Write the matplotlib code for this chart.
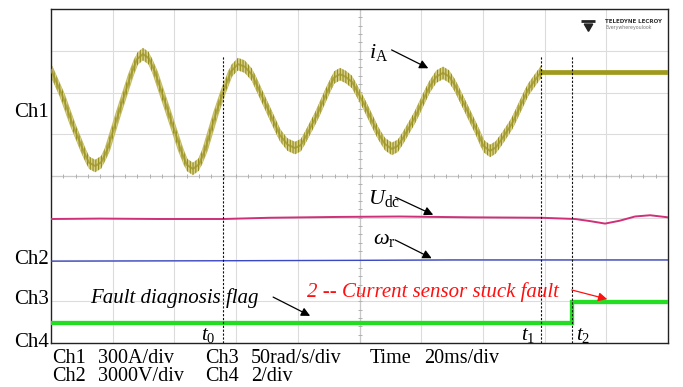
import numpy as np
import matplotlib.pyplot as plt

plt.rcParams['font.family'] = ['Liberation Serif', 'DejaVu Serif']
plt.rcParams['mathtext.fontset'] = 'custom'
plt.rcParams['mathtext.rm'] = 'Liberation Serif'
plt.rcParams['mathtext.it'] = 'Liberation Serif:italic'
plt.rcParams['hatch.linewidth'] = 0.8

# time in ms (20 ms/div, 10 div), levels in screen divisions (8 div)
ch1_t = [0.0, 3.6, 7.1, 10.7, 12.3, 14.3, 16.3, 18.2, 22.0, 25.9, 27.9, 29.8, 31.7, 33.7,
         37.9, 42.1, 44.0, 46.0, 48.0, 49.9, 53.5, 55.8, 58.4, 60.6, 62.8, 65.2, 69.7, 74.2,
         76.7, 79.1, 81.0, 82.7, 86.2, 89.8, 91.8, 93.7, 95.6, 97.6, 101.5, 106.0, 108.3,
         110.5, 112.4, 114.1, 118.0, 122.5, 124.9, 127.1, 129.1, 131.0, 134.5, 138.1, 140.2,
         142.3, 144.1, 145.9, 149.4, 154.6, 158.8]
ch1_v = [6.54, 5.94, 5.22, 4.57, 4.32, 4.24, 4.33, 4.62, 5.53, 6.42, 6.80, 6.92, 6.82, 6.49,
         5.56, 4.62, 4.27, 4.17, 4.28, 4.62, 5.51, 6.01, 6.51, 6.68, 6.62, 6.42, 5.70, 4.98,
         4.75, 4.67, 4.74, 4.96, 5.46, 6.06, 6.36, 6.44, 6.37, 6.25, 5.72, 5.03, 4.76,
         4.65, 4.72, 4.91, 5.41, 6.11, 6.38, 6.47, 6.38, 6.16, 5.63, 5.08, 4.72,
         4.60, 4.68, 4.86, 5.25, 6.06, 6.49]
ch1_stuck_t = [158.8, 200.0]
ch1_stuck_v = [6.50, 6.50]

udc_t = [0, 15.9, 35.3, 55.8, 71.0, 93.7, 113.0, 135.8, 158.8, 169.9, 174.7, 179.6, 184.4,
         189.3, 194.2, 200]
udc_v = [2.97, 2.98, 2.97, 2.97, 3.00, 3.02, 3.03, 3.01, 3.00, 2.97, 2.92, 2.86, 2.93,
         3.03, 3.06, 3.01]

wr_t = [0, 55.8, 100, 130, 200]
wr_v = [1.96, 1.97, 1.98, 1.99, 1.99]

flag_t = [0, 168.8, 168.8, 200]
flag_v = [0.49, 0.49, 0.98, 0.98]

t_marks = [55.8, 158.8, 168.8]
t_names = ['$t_0$', '$t_1$', '$t_2$']

ch_names = ['Ch1', 'Ch2', 'Ch3', 'Ch4']
ch_levels = [5.53, 1.99, 1.05, 0.01]

fig = plt.figure(figsize=(6.83, 3.87), dpi=100)
ax = fig.add_axes([51 / 683, 44 / 387, 617 / 683, 334 / 387])
ax.set_xlim(0, 200)
ax.set_ylim(0, 8)

# scope graticule
for gx in np.arange(20, 200, 20):
    ax.axvline(gx, color='#dcdcdc', lw=0.8, zorder=0)
for gy in np.arange(1, 8, 1):
    ax.axhline(gy, color='#dcdcdc', lw=0.8, zorder=0)
ax.axvline(100, color='#c8c8c8', lw=0.9, zorder=0)
ax.axhline(4, color='#c8c8c8', lw=0.9, zorder=0)
ax.plot(np.arange(4, 200, 4), np.full(49, 4.0), ls='none', marker='|', ms=3,
        color='#b0b0b0', mew=0.7, zorder=0)
ax.plot(np.full(39, 100.0), np.arange(0.2, 8, 0.2), ls='none', marker='_', ms=3,
        color='#b0b0b0', mew=0.7, zorder=0)
ax.set_xticks([])
ax.set_yticks([])
for s in ax.spines.values():
    s.set_color('#222222')
    s.set_linewidth(1.0)

# Ch1 phase current with PWM ripple
ch1_lo = np.array(ch1_v) - 0.15
ch1_hi = np.array(ch1_v) + 0.15
ax.plot(ch1_t, ch1_v, color='#c4bc62', lw=4.2, zorder=2, solid_joinstyle='round')
ax.fill_between(ch1_t, ch1_lo, ch1_hi, facecolor='#d8d08a', edgecolor='#948c1c',
                hatch='||||||', linewidth=0, zorder=2)
ax.plot(ch1_t, ch1_v, color='#a0982a', lw=1.4, alpha=0.8, zorder=3)
ax.plot(ch1_stuck_t, ch1_stuck_v, color='#a09a1c', lw=3.4, zorder=3)

ax.plot(udc_t, udc_v, color='#cf3079', lw=1.4, zorder=3)
ax.plot(wr_t, wr_v, color='#3b48c4', lw=1.0, zorder=3)
ax.plot(flag_t, flag_v, color='#22dd22', lw=3.1, zorder=3, solid_joinstyle='miter')

for tm in t_marks:
    ax.plot([tm, tm], [0, 6.87], color='#111111', lw=0.8, ls=(0, (2, 1.5)), zorder=4)
ax.text(53.2, 0.19, t_names[0], ha='right', va='center', fontsize=15)
ax.text(156.9, 0.19, t_names[1], ha='right', va='center', fontsize=15)
ax.text(170.3, 0.19, t_names[2], ha='left', va='center', fontsize=15)

for name, lev in zip(ch_names, ch_levels):
    ax.text(-0.6, lev, name, ha='right', va='center', fontsize=15, clip_on=False)

arrow = dict(arrowstyle='-|>', color='k', lw=0.9, mutation_scale=13, shrinkA=0, shrinkB=0)
ax.text(103.1, 6.97, r'$i_{\mathrm{A}}$', fontsize=16, ha='left', va='center')
ax.annotate('', xy=(122.3, 6.58), xytext=(110.4, 7.02), arrowprops=arrow)
ax.text(102.8, 3.47, r'$U_{\mathrm{dc}}$', fontsize=16, ha='left', va='center')
ax.annotate('', xy=(123.9, 3.07), xytext=(111.7, 3.49), arrowprops=arrow)
ax.text(104.4, 2.47, r'$\omega_{\mathrm{r}}$', fontsize=16, ha='left', va='center')
ax.annotate('', xy=(123.4, 2.03), xytext=(111.5, 2.47), arrowprops=arrow)
ax.text(12.6, 0.95, 'Fault diagnosis flag', fontsize=15, style='italic', ha='left',
        va='baseline')
ax.annotate('', xy=(84.0, 0.65), xytext=(72.0, 1.10), arrowprops=arrow)
ax.text(82.9, 1.10, '2 -- Current sensor stuck fault', fontsize=15, style='italic',
        color='#ff1010', ha='left', va='baseline')
red_arrow = dict(arrow, color='#ff1010')
ax.annotate('', xy=(180.3, 1.05), xytext=(168.8, 1.27), arrowprops=red_arrow)

# logo
fig.text(605 / 683, 1 - 21.5 / 387, 'TELEDYNE LECROY', fontsize=4.0, fontweight='bold',
         family='DejaVu Sans', color='#333333', va='center')
fig.text(605 / 683, 1 - 27 / 387, 'Everywhereyoulook', fontsize=3.4, family='DejaVu Sans',
         color='#777777', va='center')
ax.plot([0.870], [0.950], transform=ax.transAxes, marker=(3, 0, 180), ms=7, color='#222222',
        clip_on=False)
ax.plot([0.870], [0.963], transform=ax.transAxes, marker='_', ms=10, mew=2, color='#222222',
        clip_on=False)

# scale settings footer
row1 = [('Ch1', 51.7), ('300A/div', 98.3), ('Ch3', 205), ('50rad/s/div', 250.7),
        ('Time', 370), ('20ms/div', 424)]
row2 = [('Ch2', 51.7), ('3000V/div', 98.3), ('Ch4', 205), ('2/div', 250.7)]
for txt, px in row1:
    fig.text(px / 683, 1 - 363 / 387, txt, fontsize=14.5, va='baseline')
for txt, px in row2:
    fig.text(px / 683, 1 - 381 / 387, txt, fontsize=14.5, va='baseline')

fig.savefig('out.png', dpi=100)
